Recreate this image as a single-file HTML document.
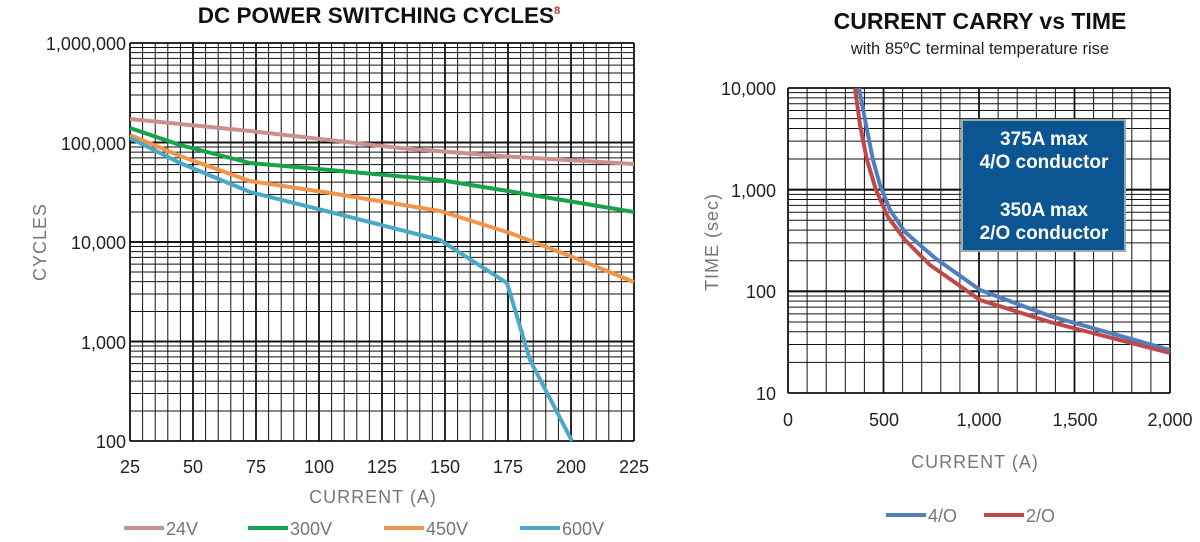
<!DOCTYPE html>
<html><head><meta charset="utf-8"><style>
body{margin:0;background:#fff;width:1200px;height:537px;overflow:hidden}
svg text{font-family:"Liberation Sans",sans-serif}
</style></head><body>
<svg id="s" width="1200" height="537" xmlns="http://www.w3.org/2000/svg">
<text x="379" y="23" text-anchor="middle" font-size="22.5" font-weight="bold" fill="#111">DC POWER SWITCHING CYCLES<tspan font-size="11" fill="#c0392b" dy="-9">8</tspan></text>
<text x="980" y="29" text-anchor="middle" font-size="23" font-weight="bold" fill="#111">CURRENT CARRY vs TIME</text>
<text x="980" y="54" text-anchor="middle" font-size="16.5" fill="#222">with 85ºC terminal temperature rise</text>
<g id="g1"></g><g id="g2"></g>
<g font-size="18" fill="#222" text-anchor="end">
<text x="126" y="50">1,000,000</text><text x="126" y="150">100,000</text><text x="126" y="249">10,000</text><text x="126" y="349">1,000</text><text x="126" y="448">100</text>
<text x="776" y="95">10,000</text><text x="776" y="197">1,000</text><text x="776" y="298">100</text><text x="776" y="400">10</text>
</g>
<g font-size="18" fill="#222" text-anchor="middle">
<text x="130" y="473">25</text><text x="193" y="473">50</text><text x="256" y="473">75</text><text x="319" y="473">100</text><text x="382" y="473">125</text><text x="445" y="473">150</text><text x="508" y="473">175</text><text x="571" y="473">200</text><text x="634" y="473">225</text>
<text x="788" y="426">0</text><text x="884" y="426">500</text><text x="979" y="426">1,000</text><text x="1075" y="426">1,500</text><text x="1170" y="426">2,000</text>
</g>
<text x="373" y="503" text-anchor="middle" font-size="18" fill="#777" letter-spacing="1">CURRENT (A)</text>
<text x="975" y="468" text-anchor="middle" font-size="18" fill="#777" letter-spacing="1">CURRENT (A)</text>
<text transform="translate(46,242) rotate(-90)" text-anchor="middle" font-size="18" fill="#777" letter-spacing="1">CYCLES</text>
<text transform="translate(718,242) rotate(-90)" text-anchor="middle" font-size="18" fill="#777" letter-spacing="1">TIME (sec)</text>
<g font-size="18" fill="#777">
<line x1="124" y1="528" x2="164" y2="528" stroke="#c9908f" stroke-width="4"/><text x="166" y="535">24V</text>
<line x1="248" y1="528" x2="288" y2="528" stroke="#16a34a" stroke-width="4"/><text x="290" y="535">300V</text>
<line x1="384" y1="528" x2="424" y2="528" stroke="#f0954a" stroke-width="4"/><text x="426" y="535">450V</text>
<line x1="520" y1="528" x2="560" y2="528" stroke="#4aa9c9" stroke-width="4"/><text x="562" y="535">600V</text>
<line x1="886" y1="515" x2="926" y2="515" stroke="#4f7fbf" stroke-width="4"/><text x="928" y="522">4/O</text>
<line x1="984" y1="515" x2="1024" y2="515" stroke="#c0474a" stroke-width="4"/><text x="1026" y="522">2/O</text>
</g>
<g fill="none" stroke-width="4" stroke-linejoin="round">
<polyline stroke="#c9908f" points="130,119 250,131 400,148 500,156 634,164"/>
<polyline stroke="#16a34a" points="130,128 180,145 250,163 330,170 440,180 520,193 634,212"/>
<polyline stroke="#f0954a" points="130,135 180,156 250,181 330,193 440,211 510,233 570,256 634,282"/>
<polyline stroke="#4aa9c9" points="130,138 180,163 250,192 330,212 440,240 507,283 530,360 572,441"/>
<polyline stroke="#4f7fbf" points="859,88 866,125 873,160 880,185 890,210 905,232 935,258 980,290 1050,316 1170,350"/>
<polyline stroke="#c0474a" points="855,88 860,125 867,160 876,190 888,217 905,240 930,265 980,300 1050,322 1170,353"/>
</g>
<rect x="962" y="120" width="163" height="131" fill="#0b5592" stroke="#9aa" stroke-width="2"/>
<g fill="#fff" font-size="19" font-weight="bold" text-anchor="middle">
<text x="1044" y="145">375A max</text><text x="1044" y="168">4/O conductor</text>
<text x="1044" y="216">350A max</text><text x="1044" y="239">2/O conductor</text>
</g>
</svg>
<script>
function grid(id,x0,x1,y0,y1,nv,major,dec){
 var g=document.getElementById(id),h='';
 for(var i=0;i<=nv;i++){var x=x0+(x1-x0)*i/nv;h+='<line x1="'+x+'" x2="'+x+'" y1="'+y0+'" y2="'+y1+'" stroke="#111" stroke-width="'+(i%major==0?1.8:1)+'"/>';}
 var d=(y1-y0)/dec;
 for(var k=0;k<dec;k++){var b=y1-k*d;for(var m=1;m<=10;m++){var y=b-d*Math.log10(m);h+='<line x1="'+x0+'" x2="'+x1+'" y1="'+y+'" y2="'+y+'" stroke="#111" stroke-width="'+(m==1||m==10?1.8:1)+'"/>';}}
 g.innerHTML=h;
}
grid('g1',130,634,43,441,40,5,4);
grid('g2',788,1170,88,393,20,5,3);
</script>
</body></html>
